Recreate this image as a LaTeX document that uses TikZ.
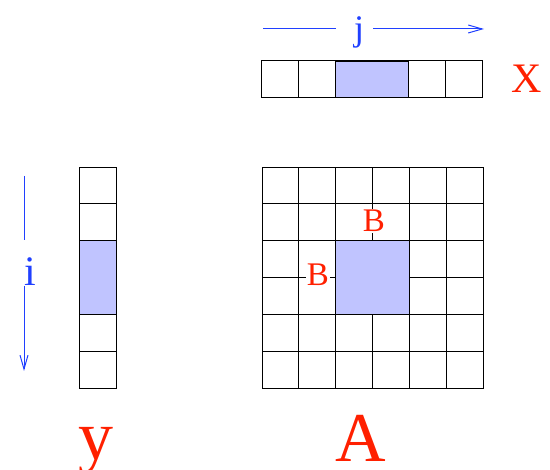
\documentclass[tikz,border=0pt]{standalone}
\usepackage{fontspec}
\setmainfont{Liberation Serif}
\usetikzlibrary{arrows.meta}
\definecolor{lblred}{RGB}{255,32,0}
\definecolor{arrblue}{RGB}{32,64,255}
\definecolor{shadefill}{RGB}{192,196,255}
\tikzset{
  gridline/.style={draw=black,line width=0.9pt},
  shadebox/.style={draw=black,fill=shadefill,line width=0.9pt},
  arrline/.style={draw=arrblue,line width=1pt},
  arrtip/.style={arrline,-{Straight Barb[length=14pt,width=8pt,line width=1pt]}},
  bigred/.style={text=lblred,inner sep=0pt,anchor=base,font=\fontsize{70}{80}\selectfont},
  midred/.style={text=lblred,inner sep=0pt,anchor=base,font=\fontsize{42}{48}\selectfont},
  bred/.style={text=lblred,fill=white,inner sep=1pt,font=\fontsize{33}{38}\selectfont},
  bluelbl/.style={text=arrblue,inner sep=0pt,anchor=base},
}
\begin{document}
\begin{tikzpicture}[x=1pt,y=-1pt]
\useasboundingbox (0,0) rectangle (550,470);
\def\cs{36.83}
% matrix A
\foreach \i in {0,...,5}{\foreach \j in {0,...,5}{
  \draw[gridline] ({262+\cs*\i},{167+\cs*\j}) rectangle ++(\cs,\cs);}}
\draw[shadebox] ({262+2*\cs},{167+2*\cs}) rectangle ({262+4*\cs},{167+4*\cs});
\node[bred] (Btop) at (374,221) {B};
\node[bred] (Bleft) at (318,275) {B};
% vector x
\foreach \i in {0,...,5}{
  \draw[gridline] ({261.5+\cs*\i},60) rectangle ++(\cs,37);}
\draw[shadebox] ({261.5+2*\cs},61) rectangle ({261.5+4*\cs},97);
% vector y
\foreach \j in {0,...,5}{
  \draw[gridline] (79,{167+\cs*\j}) rectangle ++(37,\cs);}
\draw[shadebox] (79,{167+2*\cs}) rectangle (116,{167+4*\cs});
% j arrow
\node[bluelbl,font=\fontsize{36}{40}\selectfont] (jlbl) at (359,41) {j};
\coordinate (jL) at (263,29);
\coordinate (jM1) at (336,29);
\coordinate (jM2) at (373,29);
\coordinate (jR) at (484,29);
\draw[arrline] (jL) -- (jM1);
\draw[arrtip] (jM2) -- (jR);
% i arrow
\node[bluelbl,font=\fontsize{42}{46}\selectfont] (ilbl) at (30,286) {i};
\coordinate (iT) at (24,176);
\coordinate (iM1) at (24,240);
\coordinate (iM2) at (24,286);
\coordinate (iB) at (24,371);
\draw[arrline] (iT) -- (iM1);
\draw[arrtip] (iM2) -- (iB);
% labels
\node[midred] (Xlbl) at (527,93) {X};
\node[bigred] (ylbl) at (96,460) {y};
\node[bigred] (Albl) at (361,462) {A};
\end{tikzpicture}
\end{document}
